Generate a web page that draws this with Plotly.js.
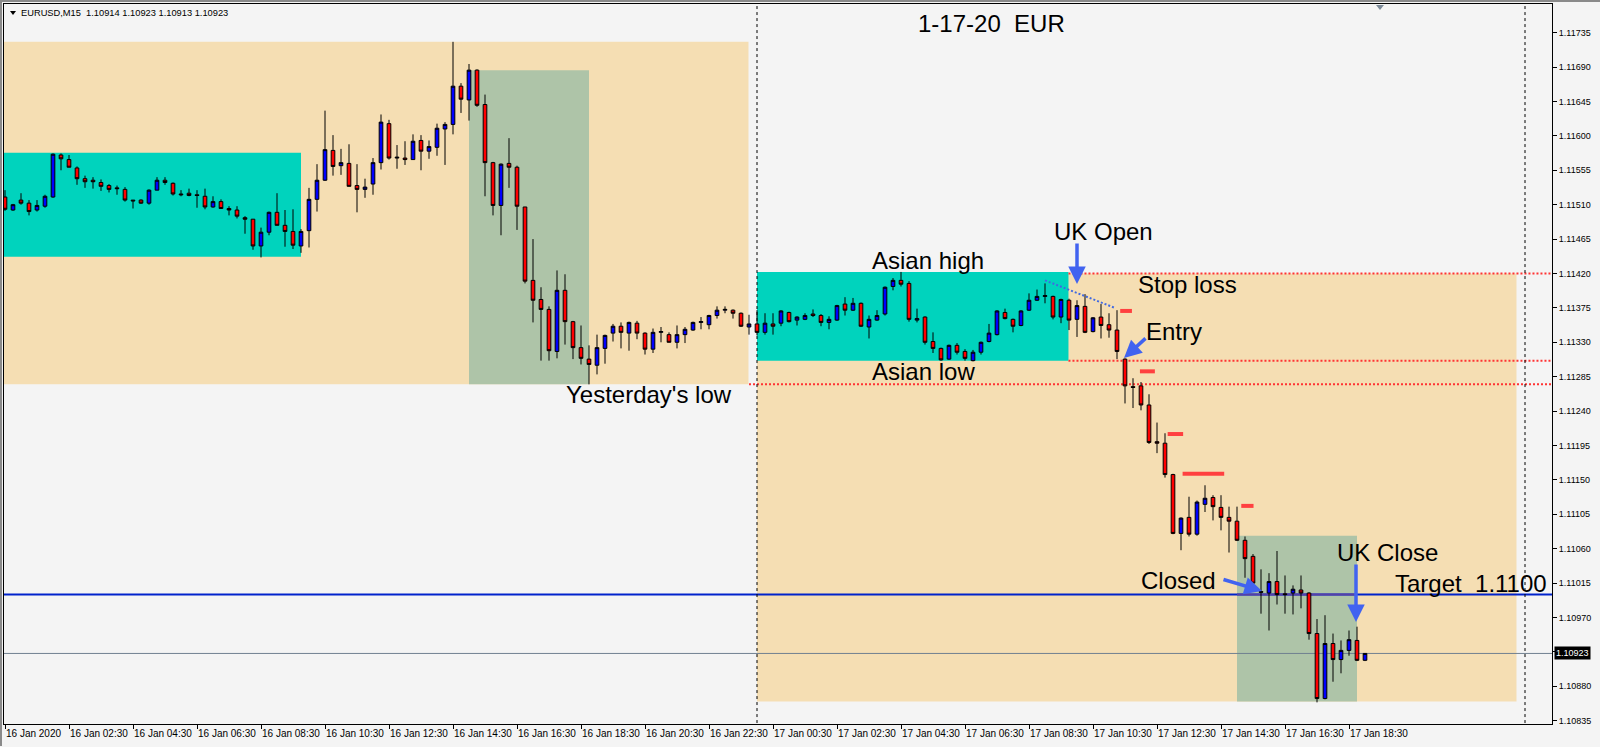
<!DOCTYPE html>
<html><head><meta charset="utf-8">
<script src="https://cdn.plot.ly/plotly-3.0.1.min.js"></script>
<style>html,body{margin:0;padding:0;background:#f4f4f4;}#chart{width:1600px;height:747px;}</style>
</head><body><div id="chart"></div>
<script>
// ---- bar times (M15) ----
const bars16 = ["00:30","00:45",
"01:00","01:15","01:30","01:45","02:00","02:15","02:30","02:45","03:00","03:15","03:30","03:45",
"04:00","04:15","04:30","04:45","05:00","05:15","05:30","05:45","06:00","06:15","06:30","06:45",
"07:00","07:15","07:30","07:45","08:00","08:15","08:30","08:45","09:00","09:15","09:30","09:45",
"10:00","10:15","10:30","10:45","11:00","11:15","11:30","11:45","12:00","12:15","12:30","12:45",
"13:00","13:15","13:30","13:45","14:00","14:15","14:30","14:45","15:00","15:15","15:30","15:45",
"16:00","16:15","16:30","16:45","17:00","17:15","17:30","17:45","18:00","18:15","18:30","18:45",
"19:00","19:15","19:30","19:45","20:00","20:15","20:30","20:45","21:00","21:15","21:30","21:45",
"22:00","22:15","22:30","22:45","23:00","23:15","23:30","23:45"];
const bars17 = [
"00:00","00:15","00:30","00:45","01:00","01:15","01:30","01:45","02:00","02:15","02:30","02:45",
"03:00","03:15","03:30","03:45","04:00","04:15","04:30","04:45","05:00","05:15","05:30","05:45",
"06:00","06:15","06:30","06:45","07:00","07:15","07:30","07:45","08:00","08:15","08:30","08:45",
"09:00","09:15","09:30","09:45","10:00","10:15","10:30","10:45","11:00","11:15","11:30","11:45",
"12:00","12:15","12:30","12:45","13:00","13:15","13:30","13:45","14:00","14:15","14:30","14:45",
"15:00","15:15","15:30","15:45","16:00","16:15","16:30","16:45","17:00","17:15","17:30","17:45",
"18:00","18:15","18:30","18:45","19:00"];
const times = bars16.map(t => "2020-01-16 " + t).concat(bars17.map(t => "2020-01-17 " + t));

// ---- OHLC ----
const open = [
1.11520,1.11503,1.11516,1.11512,1.11503,1.11508,1.11520,1.11575,1.11569,1.11558,
1.11544,1.11542,1.11539,1.11535,1.11532,1.11530,1.11516,1.11516,1.11512,1.11529,
1.11542,1.11538,1.11524,1.11525,1.11523,1.11521,1.11507,1.11514,1.11505,1.11503,
1.11493,1.11491,1.11456,1.11474,1.11500,1.11483,1.11475,1.11456,1.11476,1.11517,
1.11542,1.11581,1.11561,1.11564,1.11535,1.11530,1.11537,1.11565,1.11616,1.11571,
1.11571,1.11569,1.11594,1.11580,1.11585,1.11609,1.11615,1.11665,1.11647,1.11686,
1.11641,1.11565,1.11509,1.11564,1.11559,1.11507,1.11411,1.11386,1.11373,1.11318,
1.11398,1.11357,1.11323,1.11308,1.11300,1.11322,1.11342,1.11351,1.11342,1.11355,
1.11342,1.11321,1.11343,1.11340,1.11330,1.11340,1.11346,1.11356,1.11353,1.11365,
1.11372,1.11372,1.11368,1.11350,1.11354,1.11343,1.11354,1.11355,1.11369,1.11359,
1.11360,1.11367,1.11365,1.11356,1.11359,1.11380,1.11372,1.11381,1.11350,1.11359,
1.11367,1.11403,1.11411,1.11407,1.11359,1.11363,1.11331,1.11322,1.11308,1.11326,
1.11318,1.11306,1.11317,1.11331,1.11340,1.11369,1.11360,1.11352,1.11372,1.11385,
1.11390,1.11390,1.11363,1.11385,1.11360,1.11377,1.11344,1.11363,1.11353,1.11346,
1.11308,1.11272,1.11273,1.11248,1.11200,1.11198,1.11157,1.11080,1.11101,1.11079,
1.11118,1.11127,1.11114,1.11101,1.11096,1.11071,1.11050,1.11004,1.11002,1.11017,
1.11001,1.11002,1.11006,1.11002,1.10949,1.10864,1.10936,1.10915,1.10927,1.10940,
1.10914];
const high = [
1.11529,1.11511,1.11525,1.11516,1.11516,1.11523,1.11577,1.11577,1.11575,1.11560,
1.11548,1.11546,1.11543,1.11537,1.11535,1.11533,1.11516,1.11517,1.11530,1.11546,
1.11546,1.11539,1.11529,1.11531,1.11529,1.11531,1.11521,1.11517,1.11508,1.11508,
1.11495,1.11491,1.11480,1.11501,1.11525,1.11503,1.11504,1.11478,1.11532,1.11563,
1.11633,1.11601,1.11583,1.11589,1.11563,1.11544,1.11571,1.11628,1.11621,1.11588,
1.11593,1.11602,1.11601,1.11594,1.11616,1.11618,1.11723,1.11669,1.11694,1.11687,
1.11654,1.11566,1.11564,1.11597,1.11561,1.11507,1.11465,1.11402,1.11377,1.11424,
1.11419,1.11358,1.11352,1.11326,1.11340,1.11340,1.11354,1.11356,1.11357,1.11358,
1.11343,1.11348,1.11350,1.11343,1.11352,1.11350,1.11357,1.11363,1.11366,1.11377,
1.11377,1.11373,1.11369,1.11366,1.11372,1.11368,1.11368,1.11372,1.11370,1.11364,
1.11368,1.11373,1.11367,1.11364,1.11379,1.11389,1.11388,1.11382,1.11365,1.11372,
1.11403,1.11414,1.11422,1.11410,1.11374,1.11364,1.11343,1.11323,1.11327,1.11329,
1.11321,1.11320,1.11331,1.11354,1.11372,1.11374,1.11361,1.11372,1.11394,1.11399,
1.11407,1.11391,1.11387,1.11387,1.11385,1.11393,1.11363,1.11380,1.11368,1.11372,
1.11309,1.11283,1.11278,1.11262,1.11225,1.11211,1.11158,1.11101,1.11128,1.11123,
1.11143,1.11130,1.11130,1.11115,1.11115,1.11076,1.11053,1.11033,1.11028,1.11057,
1.11025,1.11012,1.11025,1.11003,1.10968,1.10973,1.10949,1.10940,1.10953,1.10958,
1.10923];
const low = [
1.11502,1.11502,1.11510,1.11496,1.11501,1.11506,1.11519,1.11555,1.11559,1.11536,
1.11532,1.11531,1.11528,1.11526,1.11523,1.11514,1.11505,1.11511,1.11510,1.11529,
1.11536,1.11522,1.11521,1.11521,1.11506,1.11504,1.11506,1.11505,1.11496,1.11492,
1.11472,1.11451,1.11441,1.11470,1.11483,1.11455,1.11452,1.11447,1.11454,1.11501,
1.11541,1.11548,1.11549,1.11534,1.11500,1.11519,1.11523,1.11556,1.11569,1.11557,
1.11562,1.11569,1.11555,1.11570,1.11574,1.11562,1.11602,1.11630,1.11620,1.11638,
1.11521,1.11496,1.11470,1.11532,1.11477,1.11407,1.11356,1.11306,1.11306,1.11309,
1.11327,1.11308,1.11301,1.11275,1.11288,1.11302,1.11331,1.11322,1.11319,1.11334,
1.11314,1.11316,1.11330,1.11330,1.11322,1.11329,1.11345,1.11347,1.11347,1.11361,
1.11368,1.11361,1.11350,1.11340,1.11339,1.11340,1.11340,1.11351,1.11356,1.11352,
1.11359,1.11363,1.11351,1.11347,1.11358,1.11365,1.11371,1.11350,1.11335,1.11358,
1.11365,1.11398,1.11403,1.11357,1.11356,1.11327,1.11316,1.11306,1.11307,1.11314,
1.11306,1.11305,1.11314,1.11330,1.11339,1.11360,1.11343,1.11351,1.11371,1.11384,
1.11381,1.11360,1.11355,1.11346,1.11337,1.11342,1.11343,1.11335,1.11336,1.11308,
1.11250,1.11244,1.11241,1.11197,1.11185,1.11153,1.11079,1.11058,1.11076,1.11077,
1.11108,1.11097,1.11084,1.11055,1.11070,1.11022,1.11006,1.10975,1.10953,1.10987,
1.10975,1.10974,1.10982,1.10941,1.10859,1.10863,1.10886,1.10897,1.10920,1.10913,
1.10913];
const close = [
1.11504,1.11510,1.11512,1.11501,1.11509,1.11521,1.11576,1.11570,1.11559,1.11544,
1.11540,1.11540,1.11534,1.11530,1.11531,1.11516,1.11515,1.11512,1.11529,1.11542,
1.11539,1.11524,1.11523,1.11522,1.11522,1.11507,1.11514,1.11505,1.11503,1.11495,
1.11491,1.11456,1.11474,1.11500,1.11483,1.11475,1.11457,1.11475,1.11517,1.11542,
1.11582,1.11560,1.11565,1.11534,1.11530,1.11533,1.11565,1.11618,1.11571,1.11572,
1.11569,1.11593,1.11580,1.11586,1.11610,1.11615,1.11665,1.11648,1.11686,1.11640,
1.11565,1.11509,1.11563,1.11559,1.11508,1.11410,1.11385,1.11373,1.11319,1.11398,
1.11357,1.11323,1.11309,1.11301,1.11323,1.11339,1.11351,1.11343,1.11356,1.11342,
1.11321,1.11343,1.11344,1.11330,1.11340,1.11347,1.11356,1.11357,1.11365,1.11372,
1.11373,1.11368,1.11351,1.11354,1.11343,1.11355,1.11351,1.11371,1.11357,1.11363,
1.11365,1.11365,1.11356,1.11360,1.11378,1.11372,1.11381,1.11351,1.11360,1.11365,
1.11402,1.11411,1.11406,1.11360,1.11361,1.11330,1.11322,1.11307,1.11326,1.11317,
1.11309,1.11317,1.11330,1.11342,1.11371,1.11361,1.11351,1.11371,1.11385,1.11390,
1.11391,1.11363,1.11386,1.11359,1.11378,1.11343,1.11362,1.11352,1.11346,1.11318,
1.11273,1.11271,1.11248,1.11199,1.11198,1.11157,1.11080,1.11100,1.11079,1.11121,
1.11126,1.11115,1.11101,1.11096,1.11071,1.11047,1.11015,1.11003,1.11017,1.11000,
1.11000,1.11007,1.11002,1.10949,1.10864,1.10936,1.10915,1.10927,1.10941,1.10914,
1.10923];

// ---- axis ticks ----
const xTickVals = ["2020-01-16 00:30","2020-01-16 02:30","2020-01-16 04:30","2020-01-16 06:30","2020-01-16 08:30",
"2020-01-16 10:30","2020-01-16 12:30","2020-01-16 14:30","2020-01-16 16:30","2020-01-16 18:30","2020-01-16 20:30",
"2020-01-16 22:30","2020-01-17 00:30","2020-01-17 02:30","2020-01-17 04:30","2020-01-17 06:30","2020-01-17 08:30",
"2020-01-17 10:30","2020-01-17 12:30","2020-01-17 14:30","2020-01-17 16:30","2020-01-17 18:30"];
const xTickText = ["16 Jan 2020","16 Jan 02:30","16 Jan 04:30","16 Jan 06:30","16 Jan 08:30","16 Jan 10:30",
"16 Jan 12:30","16 Jan 14:30","16 Jan 16:30","16 Jan 18:30","16 Jan 20:30","16 Jan 22:30","17 Jan 00:30",
"17 Jan 02:30","17 Jan 04:30","17 Jan 06:30","17 Jan 08:30","17 Jan 10:30","17 Jan 12:30","17 Jan 14:30",
"17 Jan 16:30","17 Jan 18:30"];
const yTickVals = [1.11735,1.11690,1.11645,1.11600,1.11555,1.11510,1.11465,1.11420,1.11375,1.11330,1.11285,
1.11240,1.11195,1.11150,1.11105,1.11060,1.11015,1.10970,1.10925,1.10880,1.10835];
const yTickText = ["1.11735","1.11690","1.11645","1.11600","1.11555","1.11510","1.11465","1.11420","1.11375",
"1.11330","1.11285","1.11240","1.11195","1.11150","1.11105","1.11060","1.11015","1.10970","","1.10880","1.10835"];

// ---- session boxes ----
const boxStart = ["2020-01-16 00:00","2020-01-17 00:00","2020-01-16 00:00","2020-01-17 00:00","2020-01-16 15:00","2020-01-17 15:00"];
const boxEnd   = ["2020-01-16 23:44","2020-01-17 23:44","2020-01-16 09:45","2020-01-17 09:44","2020-01-16 18:45","2020-01-17 18:45"];
const boxLow   = [1.11275,1.10860,1.11442,1.11306,1.11275,1.10860];
const boxHigh  = [1.11723,1.11420,1.11578,1.11422,1.11686,1.11077];
const boxColor = ["#F5DEB3","#F5DEB3","#00D3BD","#00D3BD","#AEC4A8","#AEC4A8"];

// ---- levels ----
const asianHigh = 1.11420, asianLow = 1.11306, yesterdayLow = 1.11275;
const target = 1.1100, bid = 1.10923;
const stopStart = ["2020-01-17 11:21","2020-01-17 11:58","2020-01-17 12:50","2020-01-17 13:18","2020-01-17 15:08"];
const stopEnd   = ["2020-01-17 11:43","2020-01-17 12:26","2020-01-17 13:19","2020-01-17 14:36","2020-01-17 15:31"];
const stopLevel = [1.11371,1.11292,1.11210,1.11158,1.11116];
const trendT = ["2020-01-17 09:00","2020-01-17 11:11"];
const trendP = [1.11411,1.11375];

// pixel helpers for text placement
const PL=4, PR=1552, PT=4, PB=724;
const px = x => (x-PL)/(PR-PL);
const py = y => (PB-y)/(PB-PT);

const NEAR = "2020-01-15 00:00", FAR = "2020-01-19 00:00";
const shapes = [];
for (let i=0;i<boxStart.length;i++){
  shapes.push({type:'rect', layer:'below', xref:'x', yref:'y', x0:boxStart[i], x1:boxEnd[i], y0:boxLow[i], y1:boxHigh[i],
    fillcolor:boxColor[i], line:{width:0}});
}
const dotted = {color:'#FF3333', width:2, dash:'2px,2px'};
shapes.push({type:'line', layer:'below', xref:'x', yref:'y', x0:"2020-01-17 09:44", x1:FAR, y0:asianHigh, y1:asianHigh, line:dotted});
shapes.push({type:'line', layer:'below', xref:'x', yref:'y', x0:"2020-01-17 09:44", x1:FAR, y0:asianLow, y1:asianLow, line:dotted});
shapes.push({type:'line', layer:'below', xref:'x', yref:'y', x0:"2020-01-16 23:45", x1:FAR, y0:yesterdayLow, y1:yesterdayLow, line:dotted});
shapes.push({type:'line', layer:'below', xref:'x', yref:'y', x0:NEAR, x1:FAR, y0:bid, y1:bid, line:{color:'#708090', width:1}});
shapes.push({type:'line', layer:'below', xref:'x', yref:'y', x0:NEAR, x1:FAR, y0:target, y1:target, line:{color:'#0022CC', width:2}});
shapes.push({type:'line', layer:'below', xref:'x', yref:'y', x0:boxStart[5], x1:boxEnd[5], y0:target, y1:target, line:{color:'#563FA6', width:2}});
["2020-01-17 00:00","2020-01-18 00:00"].forEach(t => shapes.push({type:'line', layer:'below', xref:'x', yref:'y', x0:t, x1:t, y0:1.10, y1:1.13, line:{color:'#000', width:1, dash:'3px,3px'}}));
shapes.push({type:'line', layer:'above', xref:'x', yref:'y', x0:trendT[0], x1:trendT[1], y0:trendP[0], y1:trendP[1], line:{color:'#4169E1', width:2, dash:'2px,2px'}});
for (let i=0;i<stopLevel.length;i++){
  shapes.push({type:'line', layer:'above', xref:'x', yref:'y', x0:stopStart[i], x1:stopEnd[i], y0:stopLevel[i], y1:stopLevel[i], line:{color:'#FF4040', width:4}});
}
// MT4 chart shift marker & header triangle
shapes.push({type:'path', xref:'paper', yref:'paper', path:`M ${px(1376)} ${py(5)} L ${px(1384)} ${py(5)} L ${px(1380)} ${py(10)} Z`, fillcolor:'#7D8B99', line:{width:0}});
shapes.push({type:'path', xref:'paper', yref:'paper', path:`M ${px(10)} ${py(11)} L ${px(16)} ${py(11)} L ${px(13)} ${py(15)} Z`, fillcolor:'#000', line:{width:0}});
// outer window frame
shapes.push({type:'line', xref:'paper', yref:'paper', x0:px(1), x1:px(1), y0:py(746), y1:py(0), line:{color:'#8a8a8a', width:2}});
shapes.push({type:'line', xref:'paper', yref:'paper', x0:px(0), x1:px(1600), y0:py(1), y1:py(1), line:{color:'#8a8a8a', width:2}});

const BIG = 24, FF = 'Liberation Sans, Arial, sans-serif';
function label(text, x, y){ return {text, x:px(x), y:py(y), xref:'paper', yref:'paper', xanchor:'left', yanchor:'middle', showarrow:false, borderpad:0, font:{family:FF, size:BIG, color:'#000'}}; }
function arrow(hx, hy, tx, ty){ return {text:'', x:px(hx), y:py(hy), xref:'paper', yref:'paper', ax:tx-hx, ay:ty-hy, showarrow:true, arrowhead:2, arrowsize:1, arrowwidth:3.5, arrowcolor:'#4163F0', standoff:0}; }

const annotations = [
  {text:'EURUSD,M15\u00A0\u00A01.10914 1.10923 1.10913 1.10923', x:px(20), y:py(13), xref:'paper', yref:'paper', xanchor:'left', yanchor:'middle', showarrow:false, borderpad:0, font:{family:FF, size:9.3, color:'#000'}},
  label('1-17-20\u00A0\u00A0EUR', 917, 23),
  label('UK Open', 1053, 231),
  label('Asian high', 871, 261),
  label('Stop loss', 1137, 285),
  label('Entry', 1145, 331),
  label('Asian low', 871, 371),
  label("Yesterday's low", 565, 394),
  label('Closed', 1140, 580),
  label('UK Close', 1336, 552),
  label('Target\u00A0\u00A01.1100', 1394, 583),
  arrow(1077, 284, 1077, 242),
  arrow(1124, 358, 1147, 337),
  arrow(1262, 591, 1222, 579),
  arrow(1356, 622, 1356, 563),
  {text:'1.10923', x:1, y:bid, xref:'paper', yref:'y', xanchor:'left', yanchor:'middle', xshift:2, showarrow:false, bgcolor:'#000', borderpad:1, font:{family:FF, size:9, color:'#fff'}}
];

const trace = {type:'candlestick', x:times, open:open, high:high, low:low, close:close,
  increasing:{line:{color:'#000', width:1}, fillcolor:'#0000FF'},
  decreasing:{line:{color:'#000', width:1}, fillcolor:'#FF0000'},
  whiskerwidth:0, hoverinfo:'skip', showlegend:false};

const layout = {
  width:1600, height:747,
  margin:{l:PL, r:1600-PR, t:PT, b:747-PB, pad:0},
  paper_bgcolor:'#f4f4f4', plot_bgcolor:'#f4f4f4',
  showlegend:false, hovermode:false, boxgap:0.35,
  font:{family:FF, size:9, color:'#000'},
  xaxis:{type:'date', range:['2020-01-16 00:28:07.5','2020-01-18 00:50:37.5'], showgrid:false, zeroline:false,
    showline:true, mirror:true, linecolor:'#000', linewidth:1, ticks:'outside', ticklen:4, tickcolor:'#000',
    tickmode:'array', tickvals:xTickVals, ticktext:xTickText, ticklabelposition:'outside right', tickangle:0,
    tickfont:{family:FF, size:10, color:'#000'}, rangeslider:{visible:false}, fixedrange:true},
  yaxis:{side:'right', range:[1.108307,1.117725], showgrid:false, zeroline:false, showline:true, mirror:true,
    linecolor:'#000', linewidth:1, ticks:'outside', ticklen:4, tickcolor:'#000', tickmode:'array',
    tickvals:yTickVals, ticktext:yTickText, tickfont:{family:FF, size:9, color:'#000'}, fixedrange:true},
  shapes:shapes, annotations:annotations
};

Plotly.newPlot('chart', [trace], layout, {staticPlot:true, displayModeBar:false});
</script></body></html>
